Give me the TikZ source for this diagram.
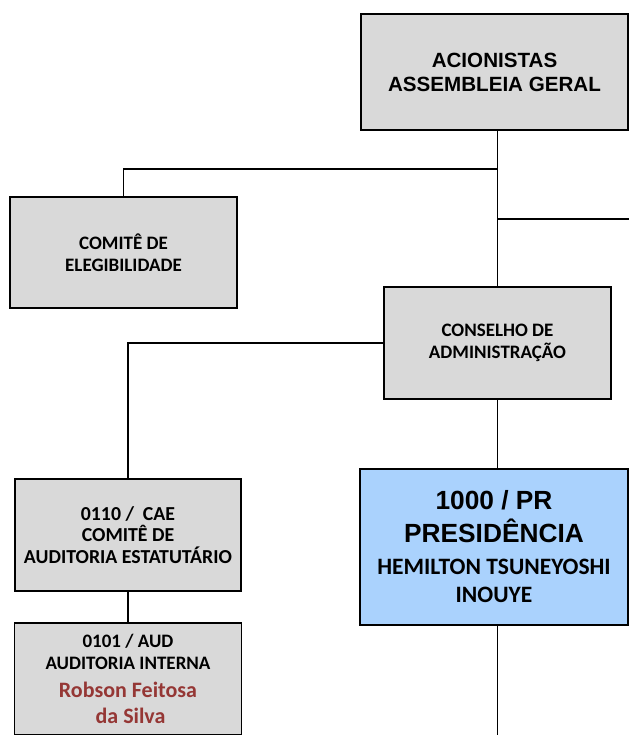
\documentclass[tikz,border=0pt]{standalone}
\usepackage{fontspec}
\setmainfont{Carlito}
\newfontfamily\arialf{Liberation Sans}
\newfontfamily\calibf{Carlito}
\definecolor{boxgray}{RGB}{217,217,217}
\definecolor{boxblue}{RGB}{170,210,253}
\definecolor{namered}{RGB}{149,55,53}
\begin{document}
\begin{tikzpicture}[x=1pt,y=-1pt,
  box/.style={draw=black, line width=1.6pt, fill=boxgray, inner sep=0pt, align=center,
    font=\calibf\bfseries\fontsize{19}{21.7}\selectfont},
  conn/.style={line width=1.1pt, draw=black}]
\useasboundingbox (0,0) rectangle (629,735);
\clip (0,0) rectangle (629,735);
% boxes
\node[box, minimum width=267pt, minimum height=116pt, font=\arialf\bfseries\fontsize{20.6}{24}\selectfont] (ag) at (494.5,72) {ACIONISTAS\\ASSEMBLEIA GERAL};
\node[box, minimum width=227pt, minimum height=111pt] (ce) at (123.5,252.5) {COMITÊ DE\\ELEGIBILIDADE};
\node[box, minimum width=227pt, minimum height=112pt] (ca) at (497.5,343) {CONSELHO DE\\ADMINISTRAÇÃO};
\node[box, minimum width=226pt, minimum height=112pt, font=\calibf\bfseries\fontsize{19.8}{21.7}\selectfont] (cae) at (128,535) {0110 /~ CAE\\COMITÊ DE\\AUDITORIA ESTATUTÁRIO};
\node[box, minimum width=227pt, minimum height=112pt] (aud) at (128,679)
  {0101 / AUD\\
   AUDITORIA INTERNA\\[7pt]
   \color{namered}\fontsize{22}{26}\selectfont Robson Feitosa\\[4pt]
   \color{namered}\fontsize{22}{26}\selectfont \kern5pt da Silva};
\node[box, fill=boxblue, minimum width=268pt, minimum height=156pt, font=\calibf\bfseries\fontsize{23.5}{33}\selectfont] (pr) at (494,547)
  {\arialf\bfseries\fontsize{26.3}{33}\selectfont 1000 / PR\\
   \arialf\bfseries\fontsize{26.3}{33}\selectfont PRESIDÊNCIA\\[-1pt]
   \calibf\bfseries\fontsize{23.5}{33}\selectfont HEMILTON TSUNEYOSHI\\[-5pt]
   \calibf\bfseries\fontsize{23.5}{33}\selectfont INOUYE};
% junctions
\coordinate (j1) at (497.5,169);
\coordinate (j2) at (497.5,219);
\coordinate (r2) at (629,219);
\coordinate (bot) at (497.5,735);
% connectors
\draw[conn] (ca.north |- ag.south) -- (ca.north);
\draw[conn] (ce.north) |- (j1);
\draw[conn] (j2) -- (r2);
\draw[conn] (ca.west) -| (cae.north);
\draw[conn] (cae.south) -- (aud.north);
\draw[conn] (ca.south) -- (ca.south |- pr.north);
\draw[conn] (ca.south |- pr.south) -- (bot);
\end{tikzpicture}
\end{document}
